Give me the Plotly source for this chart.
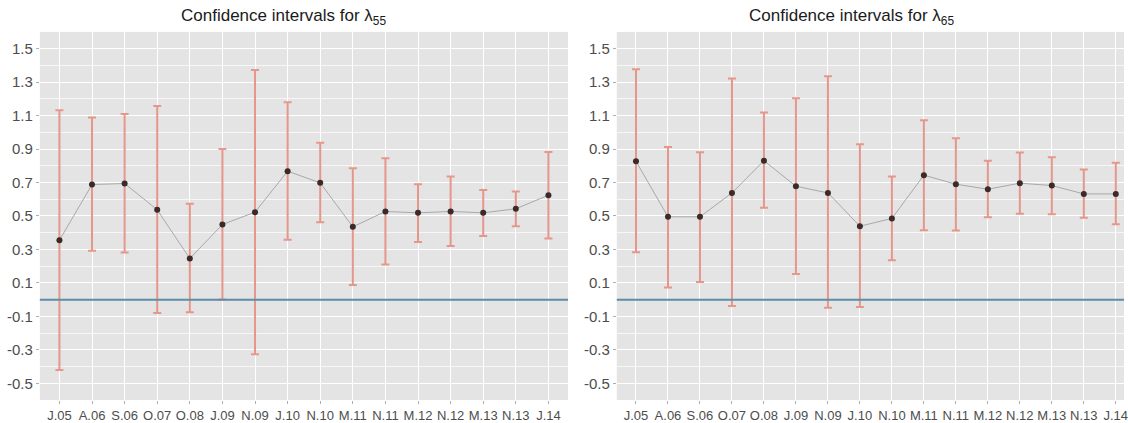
import plotly.graph_objects as go

# Survey rounds (shared x categories)
rounds = ["J.05", "A.06", "S.06", "O.07", "O.08", "J.09", "N.09", "J.10",
          "N.10", "M.11", "N.11", "M.12", "N.12", "M.13", "N.13", "J.14"]

# lambda_55: point estimates and 95% bounds
est_55 = [0.355, 0.688, 0.694, 0.537, 0.246, 0.449, 0.523, 0.768,
          0.698, 0.435, 0.527, 0.519, 0.527, 0.519, 0.543, 0.624]
upper_55 = [1.132, 1.088, 1.110, 1.158, 0.573, 0.901, 1.373, 1.180,
            0.937, 0.786, 0.845, 0.690, 0.736, 0.656, 0.646, 0.883]
lower_55 = [-0.420, 0.292, 0.282, -0.080, -0.076, 0.001, -0.327, 0.358,
            0.463, 0.087, 0.210, 0.344, 0.320, 0.380, 0.439, 0.366]

# lambda_65: point estimates and 95% bounds
est_65 = [0.827, 0.495, 0.495, 0.638, 0.830, 0.678, 0.638, 0.439,
          0.485, 0.744, 0.690, 0.660, 0.696, 0.682, 0.632, 0.632]
upper_65 = [1.377, 0.913, 0.881, 1.321, 1.118, 1.203, 1.335, 0.929,
            0.736, 1.072, 0.965, 0.830, 0.879, 0.851, 0.778, 0.818]
lower_65 = [0.284, 0.073, 0.105, -0.038, 0.549, 0.153, -0.048, -0.044,
            0.236, 0.415, 0.413, 0.493, 0.513, 0.511, 0.489, 0.451]

y_ticks = [-0.5, -0.3, -0.1, 0.1, 0.3, 0.5, 0.7, 0.9, 1.1, 1.3, 1.5]

titles = ["Confidence intervals for λ<sub>55</sub>",
          "Confidence intervals for λ<sub>65</sub>"]

W, H = 1128, 423
BAR = "#E6978B"
PT = "#3A2A2A"
LINE = "#A8A8A8"
HLINE = "#5B8DAA"
BG = "#E4E4E4"
FONT = "Liberation Sans, Arial, sans-serif"

fig = go.Figure()

panels = [(est_55, upper_55, lower_55, "x", "y"),
          (est_65, upper_65, lower_65, "x2", "y2")]

for est, up, lo, xa, ya in panels:
    idx = list(range(len(rounds)))
    fig.add_trace(go.Scatter(
        x=idx, y=est, xaxis=xa, yaxis=ya, mode="markers",
        marker=dict(size=1, color="rgba(0,0,0,0)"),
        error_y=dict(type="data", symmetric=False,
                     array=[u - e for u, e in zip(up, est)],
                     arrayminus=[e - l for e, l in zip(est, lo)],
                     color=BAR, thickness=2, width=4),
        showlegend=False, hoverinfo="skip"))
    fig.add_trace(go.Scatter(
        x=idx, y=est, xaxis=xa, yaxis=ya, mode="lines+markers",
        line=dict(color=LINE, width=1),
        marker=dict(size=6, color=PT),
        showlegend=False))

# reference line at zero in both panels
for xa, ya in (("x", "y"), ("x2", "y2")):
    fig.add_shape(type="line", xref=f"{xa} domain", yref=ya,
                  x0=0, x1=1, y0=0, y1=0,
                  line=dict(color=HLINE, width=2), layer="above")

y_dom = [1 - 401 / H, 1 - 32 / H]
xaxis_common = dict(
    tickmode="array", tickvals=list(range(len(rounds))), ticktext=rounds,
    showgrid=True, gridcolor="white", gridwidth=1.2, zeroline=False,
    showline=False, ticks="outside", ticklen=3, tickcolor="#B0B0B0",
    ticklabeloverflow="allow",
    tickfont=dict(family=FONT, size=13, color="#4D4D4D"),
)
yaxis_common = dict(
    range=[-0.6, 1.6], tickmode="array", tickvals=y_ticks,
    ticktext=[f"{v:.1f}" for v in y_ticks],
    showgrid=True, gridcolor="white", gridwidth=1.2, zeroline=False,
    showline=False, ticks="outside", ticklen=3, tickcolor="#B0B0B0",
    minor=dict(tickmode="array", tickvals=[-0.6 + 0.2 * k for k in range(12)],
               showgrid=True, gridcolor="rgba(255,255,255,0.7)", gridwidth=0.6,
               ticks=""),
    tickfont=dict(family=FONT, size=15, color="#4D4D4D"),
    domain=y_dom,
)

# right panel is cropped at the page edge
x2_left = 619
x2_step = 32.1
x2_max = (W - (x2_left + 0.6 * x2_step)) / x2_step

fig.update_layout(
    width=W, height=H,
    margin=dict(l=0, r=0, t=0, b=0),
    paper_bgcolor="white", plot_bgcolor=BG,
    xaxis=dict(xaxis_common, domain=[40 / W, 570 / W], range=[-0.6, 15.6], anchor="y"),
    yaxis=dict(yaxis_common, anchor="x"),
    xaxis2=dict(xaxis_common, domain=[x2_left / W, 1], range=[-0.6, x2_max], anchor="y2"),
    yaxis2=dict(yaxis_common, anchor="x2"),
    annotations=[
        dict(text=titles[0], x=285 / W, y=1 - 17 / H, xref="paper", yref="paper",
             showarrow=False, xanchor="center", yanchor="middle",
             font=dict(family=FONT, size=17, color="#1A1A1A")),
        dict(text=titles[1], x=855 / W, y=1 - 17 / H, xref="paper", yref="paper",
             showarrow=False, xanchor="center", yanchor="middle",
             font=dict(family=FONT, size=17, color="#1A1A1A")),
    ],
)

fig.write_html("out.html")
